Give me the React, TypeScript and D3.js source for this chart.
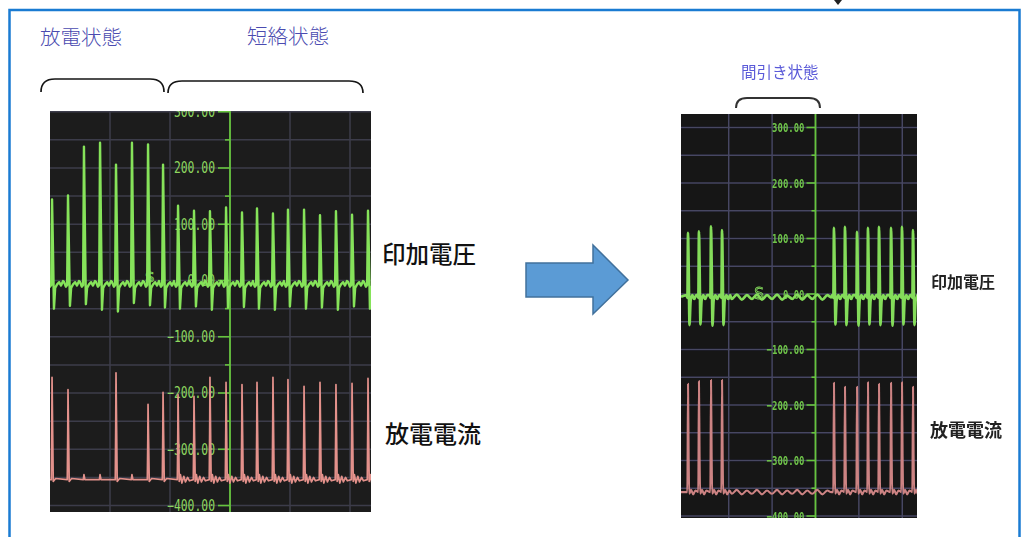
import React from 'react';
import * as d3 from 'd3';

// ---------------- data: left scope (放電状態 → 短絡状態), time in ms ----------------
const leftTimes = [0.17, 1.5, 2.83, 4.17, 5.5, 6.83, 8.17, 9.42, 10.67, 12.0, 13.33, 14.67, 16.0, 17.25, 18.58, 19.83, 21.17, 22.5, 23.83, 25.17, 26.5];
const leftVoltPeaks = [144, 151, 238, 245, 206, 245, 242, 206, 133, 124, 123, 130, 121, 128, 119, 126, 126, 116, 123, 117, 124];
const leftVoltUnders = [-50, -45, -42, -52, -55, -40, -44, -48, -50, -46, -52, -48, -47, -50, -52, -46, -50, -48, -52, -46, -50];
const leftCurrPeaks: (number | null)[] = [-172, -194, null, null, -164, null, -220, -199, -203, -206, -172, -181, -185, -181, -172, -176, -188, -181, -185, -183, -174];
const leftShortStart = 9.6;

// ---------------- data: right scope (間引き状態) ----------------
const rightTimes = [0.81, 2.07, 3.46, 4.73, 17.63, 18.9, 20.29, 21.55, 22.82, 24.21, 25.47, 26.74];
const rightVoltPeaks = [110, 113, 122, 115, 119, 121, 112, 119, 121, 119, 121, 115];
const rightVoltUnders = [-56, -55, -57, -56, -55, -56, -57, -55, -56, -57, -55, -56];
const rightCurrPeaks = [-162, -157, -155, -155, -160, -167, -167, -159, -162, -160, -159, -167];
const rightRippleTimes = [5.85, 6.43, 7.01, 7.59, 8.17, 8.75, 9.33, 9.91, 10.49, 11.07, 11.65, 12.23, 12.81, 13.39, 13.97, 14.55, 15.13, 15.71, 16.29, 16.87, 17.3];
const rightVoltRipple = [-9, -1, -10, -2, -9, -1, -10, -2, -9, -1, -10, -3, -9, -1, -10, -2, -9, -1, -10, -2, -6];
const rightCurrRipple = [-360, -353, -361, -354, -360, -353, -361, -354, -360, -353, -361, -354, -360, -353, -361, -354, -360, -353, -361, -354, -357];

// ---------------- axis ----------------
const majorTicks = [300, 200, 100, 0, -100, -200, -300, -400];
const minorTicks = [250, 150, 50, -50, -150, -250, -350];
const leftTimeGrid = [5, 10, 15, 20, 25];
const rightTimeGrid = [5.5, 10.5, 15.5, 20.5, 25.5];

// cursor markers [time, value]
const leftCursor: [number, number] = [8.3, 6];
const rightCursor: [number, number] = [9.0, 0];

// ---------------- layout ----------------
const LP = { x0: 50, x1: 371, y0: 111, y1: 512 };
const RP = { x0: 681, x1: 917, y0: 114, y1: 518 };

const xL = d3.scaleLinear().domain([0, 26.75]).range([LP.x0, LP.x1]);
const yL = d3.scaleLinear().domain([-411.5, 301.3]).range([LP.y1, LP.y0]);
const xR = d3.scaleLinear().domain([0, 27.2]).range([RP.x0, RP.x1]);
const yR = d3.scaleLinear().domain([-403.6, 324.3]).range([RP.y1, RP.y0]);
const fmt = d3.format('.2f');

type P = [number, number];

function voltPoints(times: number[], peaks: number[], unders: number[], base: number,
  pre: P[], post: P[], upDt: number, underDt: number): P[] {
  const pts: P[] = [];
  times.forEach((t, i) => {
    pre.forEach(([dt, dv]) => pts.push([t + dt, base + dv]));
    pts.push([t - upDt, base - 2]);
    pts.push([t, peaks[i]]);
    pts.push([t + underDt * 0.45, base + (peaks[i] - base) * 0.45]);
    pts.push([t + underDt, unders[i]]);
    post.forEach(([dt, dv]) => pts.push([t + dt, base + dv]));
  });
  return pts;
}

function leftVolt(): P[] {
  const base = -6;
  const pts: P[] = [[0, base]];
  return pts.concat(voltPoints(leftTimes, leftVoltPeaks, leftVoltUnders, base,
    [[-0.32, 3], [-0.18, -5]],
    [[0.26, -7], [0.42, -1], [0.6, 3], [0.75, -3], [0.92, 5]], 0.07, 0.16));
}

function leftCurr(): P[] {
  const base = -354;
  const pts: P[] = [[0, base]];
  leftTimes.forEach((t, i) => {
    const pk = leftCurrPeaks[i];
    if (pk === null) {
      pts.push([t - 0.05, base], [t, base + 9], [t + 0.08, base]);
      return;
    }
    const noisy = t > leftShortStart;
    pts.push([t - 0.06, base]);
    pts.push([t - 0.02, base + (pk - base) * 0.55]);
    pts.push([t, pk]);
    pts.push([t + 0.05, base + (pk - base) * 0.5]);
    pts.push([t + 0.1, base - 3]);
    if (noisy) {
      pts.push([t + 0.2, base + 9], [t + 0.32, base - 6], [t + 0.48, base + 6], [t + 0.62, base - 4], [t + 0.8, base + 4], [t + 0.95, base - 2]);
    } else {
      pts.push([t + 0.3, base + 2]);
    }
  });
  pts.push([26.75, base]);
  return pts;
}

function rightVolt(): P[] {
  const base = -5;
  const pts: P[] = [[0, base]];
  const all = pts.concat(voltPoints(rightTimes, rightVoltPeaks, rightVoltUnders, base,
    [[-0.2, 3]],
    [[0.3, -7], [0.5, 3], [0.72, -4], [0.94, 3]], 0.07, 0.17));
  rightRippleTimes.forEach((t, i) => all.push([t, rightVoltRipple[i]]));
  all.push([27.2, base]);
  return all.sort((a, b) => a[0] - b[0]);
}

function rightCurr(): P[] {
  const base = -357;
  const pts: P[] = [[0, base]];
  rightTimes.forEach((t, i) => {
    const pk = rightCurrPeaks[i];
    pts.push([t - 0.08, base], [t, pk], [t + 0.07, base + (pk - base) * 0.35], [t + 0.14, base - 3],
      [t + 0.35, base + 4], [t + 0.6, base - 4], [t + 0.85, base + 3]);
  });
  rightRippleTimes.forEach((t, i) => pts.push([t, rightCurrRipple[i]]));
  pts.push([27.2, base]);
  return pts.sort((a, b) => a[0] - b[0]);
}

const gridValues = [...majorTicks, ...minorTicks];

function Scope(props: {
  id: string; P: typeof LP; x: d3.ScaleLinear<number, number>; y: d3.ScaleLinear<number, number>;
  timeGrid: number[]; axisT: number; volt: P[]; curr: P[]; bg: string; grid: string;
  voltColor: string; currColor: string; labelColor: string; fontSize: number; charW: number; fontWeight: number;
  majorLen: number; minorLen: number; gap: number; lw: number; clw: number; blur?: boolean;
  curve: d3.CurveFactory; cursor: [number, number]; cursorSize: number;
}) {
  const { id, P: p, x, y } = props;
  const ax = x(props.axisT);
  const line = d3.line<P>().x(d => x(d[0])).y(d => y(d[1])).curve(props.curve);
  return (
    <g filter={props.blur ? 'url(#soft)' : undefined}>
      <defs>
        <clipPath id={id}><rect x={p.x0} y={p.y0} width={p.x1 - p.x0} height={p.y1 - p.y0} /></clipPath>
      </defs>
      <rect x={p.x0} y={p.y0} width={p.x1 - p.x0} height={p.y1 - p.y0} fill={props.bg} />
      <g clipPath={`url(#${id})`}>
        {gridValues.map(v => (
          <line key={'h' + v} x1={p.x0} x2={p.x1} y1={y(v)} y2={y(v)} stroke={props.grid} strokeWidth={1.5} />
        ))}
        {props.timeGrid.map(t => (
          <line key={'v' + t} x1={x(t)} x2={x(t)} y1={p.y0} y2={p.y1} stroke={props.grid} strokeWidth={1.5} />
        ))}
        <line x1={ax} x2={ax} y1={p.y0} y2={p.y1} stroke="#66c43d" strokeWidth={1.8} />
        {majorTicks.map(v => (
          <g key={'m' + v}>
            <line x1={ax - props.majorLen} x2={ax} y1={y(v)} y2={y(v)} stroke="#66c43d" strokeWidth={1.6} />
            <text x={ax - props.majorLen - props.gap} y={y(v)} dy="0.36em" textAnchor="end"
              fill={props.labelColor} fontFamily="DejaVu Sans Mono" fontSize={props.fontSize} fontWeight={props.fontWeight}
              textLength={fmt(v).length * props.charW} lengthAdjust="spacingAndGlyphs">{fmt(v)}</text>
          </g>
        ))}
        {minorTicks.map(v => (
          <line key={'n' + v} x1={ax - props.minorLen} x2={ax} y1={y(v)} y2={y(v)} stroke="#66c43d" strokeWidth={1.6} />
        ))}
        <text x={x(props.cursor[0])} y={y(props.cursor[1])} dy="0.35em" textAnchor="middle"
          fill="none" stroke="#7fd45a" strokeWidth={0.9} fontFamily="DejaVu Sans" fontSize={props.cursorSize}>S</text>
        <path d={line(props.volt) || ''} fill="none" stroke={props.voltColor} strokeWidth={props.lw} strokeLinejoin="round" />
        <path d={line(props.curr) || ''} fill="none" stroke={props.currColor} strokeWidth={props.clw} strokeLinejoin="round" />
      </g>
    </g>
  );
}

export default function App() {
  return (
    <svg width={1021} height={537} style={{ position: 'absolute', left: 0, top: 0, background: '#fff' }}>
      <defs>
        <filter id="soft" x="-5%" y="-5%" width="110%" height="110%">
          <feGaussianBlur stdDeviation="0.6" />
        </filter>
      </defs>
      {/* outer frame */}
      <rect x={9.5} y={10} width={1010} height={600} fill="none" stroke="#1a7bd2" strokeWidth={2.5} />
      <polygon points="834,0 842,0 838,5" fill="#222" />

      {/* left headers */}
      <text x={40} y={45} fill="#4b4bb0" fontFamily="Noto Sans CJK JP" fontWeight={300} fontSize={20.5}>放電状態</text>
      <text x={247} y={44} fill="#4b4bb0" fontFamily="Noto Sans CJK JP" fontWeight={300} fontSize={20.5}>短絡状態</text>
      <path d="M41,92 Q41,79 55,79 H150 Q164,79 164,92" fill="none" stroke="#151515" strokeWidth={1.7} />
      <path d="M168,93 Q168,81 182,81 H349 Q363,81 363,93" fill="none" stroke="#151515" strokeWidth={1.7} />

      <Scope id="clipL" P={LP} x={xL} y={yL} timeGrid={leftTimeGrid} axisT={15}
        volt={leftVolt()} curr={leftCurr()} bg="#1c1c1c" grid="#3c3c4a"
        voltColor="#86e35a" currColor="#e3918b" labelColor="#8ed760" fontSize={15} charW={6.85} fontWeight={400}
        majorLen={12} minorLen={5} gap={3} lw={2.4} clw={1.7} curve={d3.curveLinear}
        cursor={leftCursor} cursorSize={14} />

      <text x={382} y={263} fill="#111" fontFamily="Noto Sans CJK JP" fontWeight={500} fontSize={23.5}>印加電圧</text>
      <text x={385} y={443} fill="#111" fontFamily="Noto Sans CJK JP" fontWeight={500} fontSize={24}>放電電流</text>

      {/* arrow */}
      <polygon points="526,263 593,263 593,245 628,280 593,314 593,297 526,297" fill="#5b9bd5" stroke="#41719c" strokeWidth={1.5} />

      {/* right header */}
      <g filter="url(#soft)">
        <text x={741} y={78} fill="#5a5ad8" fontFamily="Noto Sans CJK JP" fontWeight={400} fontSize={15.5}>間引き状態</text>
        <path d="M736,108 Q736,98 747,98 H809 Q820,98 820,108" fill="none" stroke="#333" strokeWidth={2} />
      </g>

      <Scope id="clipR" P={RP} x={xR} y={yR} timeGrid={rightTimeGrid} axisT={15.5}
        volt={rightVolt()} curr={rightCurr()} bg="#131313" grid="#464662"
        voltColor="#84dc5a" currColor="#cc8383" labelColor="#6fc44a" fontSize={13} charW={5.4} fontWeight={700}
        majorLen={9} minorLen={4} gap={2} lw={2.7} clw={2.1} blur curve={d3.curveMonotoneX}
        cursor={rightCursor} cursorSize={15} />

      <g filter="url(#soft)">
        <text x={931} y={288} fill="#222" fontFamily="Noto Sans CJK JP" fontWeight={700} fontSize={16}>印加電圧</text>
        <text x={930} y={437} fill="#222" fontFamily="Noto Sans CJK JP" fontWeight={700} fontSize={18}>放電電流</text>
      </g>
    </svg>
  );
}
